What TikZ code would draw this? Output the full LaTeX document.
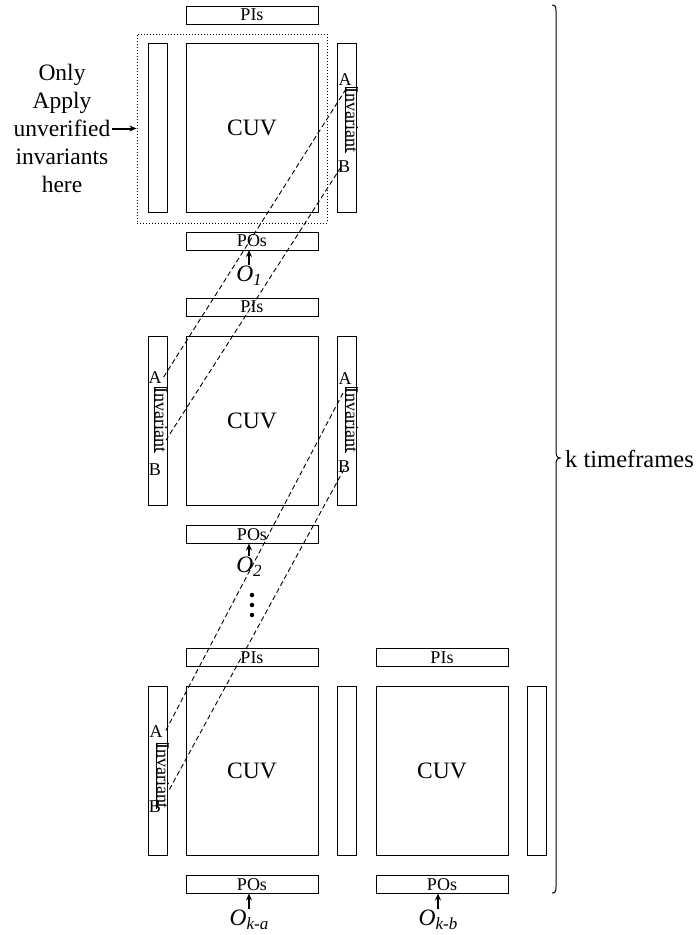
\documentclass[tikz,border=0pt]{standalone}
\usepackage{fontspec}
\setmainfont{Liberation Serif}
\usetikzlibrary{arrows.meta}
\newcommand\osub[1]{\textit{O}\raisebox{-4pt}{\fontsize{17}{17}\selectfont\itshape #1}}
\begin{document}
\begin{tikzpicture}[x=1pt,y=-1pt,
 bigf/.style={font=\fontsize{23.5}{28}\selectfont},
 smf/.style={font=\fontsize{18}{21}\selectfont},
 blk/.style={draw, line width=1pt, inner sep=0pt, outer sep=0pt},
 cuvbox/.style={blk, bigf, minimum width=132pt, minimum height=169pt},
 barbox/.style={blk, minimum width=19pt, minimum height=169pt},
 iobox/.style={blk, smf, minimum width=132pt, minimum height=18pt},
 lab/.style={smf, inner sep=0pt},
 invlab/.style={smf, rotate=-90, inner sep=0pt},
 invframe/.style={line width=0.9pt},
 link/.style={line width=0.9pt, dash pattern=on 5pt off 3pt},
 oarr/.style={-{Stealth[length=7pt,width=6pt]}, line width=2pt},
 olab/.style={bigf, inner sep=1pt},
 dotnode/.style={circle, fill, inner sep=0pt, minimum size=4.5pt},
]
\useasboundingbox (0,0) rectangle (696,935);

% ---- block 1
\node[iobox] (pi1) at (252,15) {PIs};
\node[barbox] (l1) at (157.5,127.5) {};
\node[cuvbox] (c1) at (252,127.5) {CUV};
\node[barbox] (r1) at (347,127.5) {};
\node[iobox] (po1) at (252,241) {POs};
\node[draw, dotted, line width=1pt, minimum width=190pt, minimum height=189pt, inner sep=0pt] (dbox) at (232,128.5) {};
\node[invlab] (inv1) at (352,120) {Invariant};
\draw[invframe] (inv1.north west) -- (inv1.south west) -- (inv1.south east);
\node[lab] (ar1) at (345,80) {A};
\node[lab] (br1) at (344,167) {B};

% ---- block 2
\node[iobox] (pi2) at (252,307) {PIs};
\node[barbox] (l2) at (157.5,421) {};
\node[cuvbox] (c2) at (252,421) {CUV};
\node[barbox] (r2) at (347,421) {};
\node[iobox] (po2) at (252,534.5) {POs};
\node[invlab] (inv2l) at (161,420) {Invariant};
\draw[invframe] (inv2l.north west) -- (inv2l.south west) -- (inv2l.south east);
\node[lab] (al2) at (155,378) {A};
\node[lab] (bl2) at (155,470) {B};
\node[invlab] (inv2r) at (352,420) {Invariant};
\draw[invframe] (inv2r.north west) -- (inv2r.south west) -- (inv2r.south east);
\node[lab] (ar2) at (345,379) {A};
\node[lab] (br2) at (344,467) {B};

% ---- block 3
\node[iobox] (pi3) at (252,657.5) {PIs};
\node[iobox] (pi4) at (442,657.5) {PIs};
\node[barbox] (l3) at (157.5,771) {};
\node[cuvbox] (c3) at (252,771) {CUV};
\node[barbox] (r3) at (347,771) {};
\node[cuvbox] (c4) at (442,771) {CUV};
\node[barbox] (r4) at (536.5,771) {};
\node[iobox] (po3) at (252,884.5) {POs};
\node[iobox] (po4) at (442,884.5) {POs};
\node[invlab] (inv3l) at (163,776) {Invariant};
\draw[invframe] (inv3l.north west) -- (inv3l.south west) -- (inv3l.south east);
\node[lab] (al3) at (156,732) {A};
\node[lab] (bl3) at (155,807) {B};

% ---- dashed links
\coordinate (pa1) at (346,89);
\coordinate (pa2) at (163,378);
\coordinate (pb1) at (341,167);
\coordinate (pb2) at (166,440);
\coordinate (qa1) at (343,393);
\coordinate (qa2) at (165,732);
\coordinate (qb1) at (348,462);
\coordinate (qb2) at (168,792);
\draw[link] (pa1) -- (pa2);
\draw[link] (pb1) -- (pb2);
\draw[link] (qa1) -- (qa2);
\draw[link] (qb1) -- (qb2);

% ---- outputs
\node[olab] (o1) at (249,276) {\osub{1}};
\node[olab] (o2) at (249,567) {\osub{2}};
\node[olab] (o3) at (249,920) {\osub{k-a}};
\node[olab] (o4) at (438,920) {\osub{k-b}};
\draw[oarr] (o1) -- (o1 |- po1.south);
\draw[oarr] (o2) -- (o2 |- po2.south);
\draw[oarr] (o3) -- (o3 |- po3.south);
\draw[oarr] (o4) -- (o4 |- po4.south);

% ---- dots
\node[dotnode] (dt1) at (252,595) {};
\node[dotnode] (dt2) at (252,605) {};
\node[dotnode] (dt3) at (252,615) {};

% ---- note
\node[bigf, align=center, inner sep=2pt] (note) at (62,128.5) {Only\\Apply\\unverified\\invariants\\here};
\draw[oarr] (note) -- (note -| dbox.west);

% ---- brace
\draw[line width=1pt] (552,5) .. controls (555.5,5) and (556,7) .. (556,11) -- (556,451)
  .. controls (556,455) and (557,458) .. (560,458)
  .. controls (557,458) and (556,461) .. (556,465) -- (556,887)
  .. controls (556,891) and (555.5,893) .. (552,893);
\node[font=\fontsize{24.5}{28}\selectfont, anchor=west, inner sep=0pt] (kt) at (565,459) {k timeframes};
\end{tikzpicture}
\end{document}
